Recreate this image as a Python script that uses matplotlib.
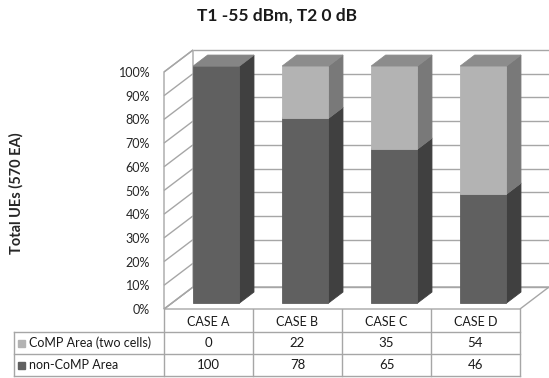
import numpy as np
import matplotlib
matplotlib.use('Agg')
import matplotlib.pyplot as plt
from matplotlib.patches import Polygon

plt.rcParams['font.family'] = ['Lato', 'DejaVu Sans']

# datos del grafico
casos = ['CASE A', 'CASE B', 'CASE C', 'CASE D']
series = ['CoMP Area (two cells)', 'non-CoMP Area']
comp = [0, 22, 35, 54]
non_comp = [100, 78, 65, 46]
ticks_y = list(range(0, 101, 10))

# colores (frente, lado, techo) de cada serie
col_non = ('#606060', '#404040', '#858585')
col_comp = ('#b3b3b3', '#797979', '#8c8c8c')
col_grid = '#a6a6a6'

W, H = 549, 378
fig = plt.figure(figsize=(W / 100, H / 100), dpi=100)

# ejes del grafico: plano frontal del cubo 3D
x0, x1, y0, y1 = 164, 520, 309, 72
ax = fig.add_axes([x0 / W, 1 - y0 / H, (x1 - x0) / W, (y0 - y1) / H])
ax.set_xlim(-0.5, 3.5)
ax.set_ylim(0, 100)

# profundidad del cubo en unidades de datos
px_x = (x1 - x0) / 4.0
px_y = (y0 - y1) / 100.0
DX = 29 / px_x
DY = 22 / px_y


def poly(pts, color, z, ec=None, lw=0.6):
    p = Polygon(pts, closed=True, facecolor=color, edgecolor=ec or color,
                lw=lw, zorder=z, clip_on=False)
    ax.add_patch(p)


def linea(xs, ys, z=1, c=col_grid, lw=1.0):
    ax.plot(xs, ys, color=c, lw=lw, zorder=z, clip_on=False,
            solid_capstyle='butt')


# piso
xl, xr = -0.5, 3.5
poly([(xl, 0), (xl + DX, DY), (xr + DX, DY), (xr, 0)], 'white', 0.5,
     ec=col_grid, lw=1.0)
# pared izquierda
poly([(xl, 0), (xl, 100), (xl + DX, 100 + DY), (xl + DX, DY)], 'white', 0.5,
     ec=col_grid, lw=1.0)
# grilla de la pared del fondo y la pared izquierda
for v in ticks_y:
    linea([xl + DX, xr + DX], [v + DY, v + DY])
    linea([xl, xl + DX], [v, v + DY])

# barras 3D apiladas
w = 0.52
f0, f1 = 0.27, 0.77
for i in range(len(casos)):
    base = 0
    for val, cols in ((non_comp[i], col_non), (comp[i], col_comp)):
        if val == 0:
            continue
        top = base + val
        a = i - w / 2 + f0 * DX
        b = i + w / 2 + f0 * DX
        ya, yb = base + f0 * DY, top + f0 * DY
        ddx, ddy = (f1 - f0) * DX, (f1 - f0) * DY
        poly([(b, ya), (b + ddx, ya + ddy), (b + ddx, yb + ddy), (b, yb)],
             cols[1], 3)
        poly([(a, ya), (b, ya), (b, yb), (a, yb)], cols[0], 3)
        poly([(a, yb), (b, yb), (b + ddx, yb + ddy), (a + ddx, yb + ddy)],
             cols[2], 3)
        base = top

ax.set_yticks(ticks_y)
ax.set_yticklabels([f'{v}%' for v in ticks_y], fontsize=9, color='#262626')
ax.tick_params(axis='y', length=0, pad=10)
ax.set_xticks([])
for s in ax.spines.values():
    s.set_visible(False)
ax.patch.set_visible(False)

ax.set_ylabel('Total UEs (570 EA)', fontsize=10.5, fontweight='bold',
              color='#262626')
ax.yaxis.set_label_coords(-(x0 - 24) / (x1 - x0), 0.49)

fig.text(277 / W, 1 - 16 / H, 'T1 -55 dBm, T2 0 dB', ha='center',
         va='center', fontsize=12.5, fontweight='bold', color='#1a1a1a')

# tabla de datos bajo el grafico (coordenadas en pixeles)
tb = fig.add_axes([0, 0, 1, 1], zorder=-1)
tb.set_xlim(0, W)
tb.set_ylim(H, 0)
tb.axis('off')

tl = 14
filas = [309, 332, 354, 376]
cols_x = [x0 + k * px_x for k in range(5)]
for yy in filas[1:]:
    tb.plot([tl, x1], [yy, yy], color=col_grid, lw=1.0)
for xx in cols_x:
    tb.plot([xx, xx], [filas[0], filas[-1]], color=col_grid, lw=1.0)
tb.plot([tl, tl], [filas[1], filas[-1]], color=col_grid, lw=1.0)

for k, c in enumerate(casos):
    tb.text((cols_x[k] + cols_x[k + 1]) / 2, (filas[0] + filas[1]) / 2 + 1, c,
            ha='center', va='center', fontsize=9, color='#1a1a1a')

valores = [comp, non_comp]
marcas = [col_comp[0], col_non[0]]
for r in range(2):
    yc = (filas[r + 1] + filas[r + 2]) / 2
    tb.add_patch(plt.Rectangle((tl + 4, yc - 3.5), 7, 7, color=marcas[r]))
    tb.text(tl + 15, yc, series[r], ha='left', va='center', fontsize=9,
            color='#1a1a1a')
    for k in range(len(casos)):
        tb.text((cols_x[k] + cols_x[k + 1]) / 2, yc, str(valores[r][k]),
                ha='center', va='center', fontsize=9.5, color='#1a1a1a')

fig.savefig('out.png', dpi=100)
